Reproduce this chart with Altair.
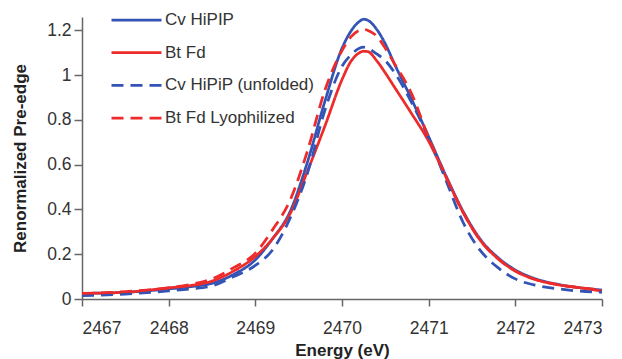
import altair as alt
import pandas as pd

energy = [2467.0, 2467.5, 2468.0, 2468.25, 2468.5, 2468.75, 2469.0, 2469.2, 2469.4,
          2469.6, 2469.8, 2470.0, 2470.1, 2470.2, 2470.25, 2470.3, 2470.4, 2470.5,
          2470.6, 2470.8, 2471.0, 2471.2, 2471.4, 2471.6, 2471.8, 2472.0, 2472.25,
          2472.5, 2472.75, 2473.0]

cv_hipip = [0.025, 0.030, 0.045, 0.055, 0.070, 0.110, 0.175, 0.270, 0.390,
            0.610, 0.880, 1.120, 1.195, 1.240, 1.250, 1.245, 1.205, 1.140,
            1.055, 0.895, 0.725, 0.550, 0.390, 0.265, 0.185, 0.130, 0.088,
            0.065, 0.050, 0.040]

bt_fd = [0.025, 0.030, 0.050, 0.060, 0.080, 0.125, 0.190, 0.270, 0.380,
         0.570, 0.770, 0.980, 1.060, 1.100, 1.107, 1.105, 1.065, 1.010,
         0.950, 0.830, 0.705, 0.545, 0.385, 0.260, 0.180, 0.125, 0.085,
         0.063, 0.050, 0.035]

cv_unfolded = [0.015, 0.022, 0.036, 0.045, 0.058, 0.100, 0.150, 0.220, 0.360,
               0.560, 0.840, 1.040, 1.090, 1.120, 1.125, 1.120, 1.095, 1.065,
               1.015, 0.880, 0.720, 0.530, 0.340, 0.215, 0.140, 0.090, 0.060,
               0.045, 0.035, 0.030]

bt_lyo = [0.025, 0.033, 0.050, 0.065, 0.090, 0.140, 0.205, 0.310, 0.440,
          0.660, 0.930, 1.110, 1.170, 1.200, 1.205, 1.200, 1.175, 1.120,
          1.055, 0.920, 0.720, 0.545, 0.385, 0.260, 0.180, 0.125, 0.085,
          0.063, 0.050, 0.040]

series_names = ["Cv HiPIP", "Bt Fd", "Cv HiPiP (unfolded)", "Bt Fd Lyophilized"]
series_values = [cv_hipip, bt_fd, cv_unfolded, bt_lyo]
series_colors = ["#3354B4", "#EE2B2B", "#3354B4", "#EE2B2B"]
series_dash = [[1, 0], [1, 0], [12, 7], [12, 7]]

y_ticks = [0, 0.2, 0.4, 0.6, 0.8, 1.0, 1.2]
x_ticks = [2467, 2468, 2469, 2470, 2471, 2472, 2473]

rows = []
for name, vals in zip(series_names, series_values):
    for e, v in zip(energy, vals):
        rows.append({"Energy": e, "Value": v, "Series": name})
df = pd.DataFrame(rows)

FONT = "Liberation Sans"

legend_opts = dict(title=None, orient="none", legendX=28, legendY=-12,
                   symbolType="stroke", symbolSize=2500, symbolStrokeWidth=2.75,
                   clipHeight=30, rowPadding=2.7, labelOffset=2)

chart = alt.Chart(df).mark_line(strokeWidth=2.75, interpolate="monotone").encode(
    x=alt.X("Energy:Q",
            scale=alt.Scale(domain=[2467, 2473], nice=False, zero=False),
            axis=alt.Axis(title="Energy (eV)", values=x_ticks, format="d",
                          grid=False, tickSize=7, labelPadding=13,
                          titlePadding=6)),
    y=alt.Y("Value:Q",
            scale=alt.Scale(domain=[0, 1.26], nice=False),
            axis=alt.Axis(title="Renormalized Pre-edge", values=y_ticks,
                          format="~g", grid=False, tickSize=8, labelPadding=3,
                          titlePadding=17)),
    color=alt.Color("Series:N",
                    scale=alt.Scale(domain=series_names, range=series_colors),
                    legend=alt.Legend(**legend_opts)),
    strokeDash=alt.StrokeDash("Series:N",
                              scale=alt.Scale(domain=series_names, range=series_dash),
                              legend=alt.Legend(**legend_opts)),
).properties(
    width=520,
    height=282,
    autosize=alt.AutoSizeParams(type="none"),
    padding={"left": 82, "top": 17, "right": 20, "bottom": 60},
).configure_view(
    stroke=None
).configure_axis(
    labelFont=FONT, labelFontSize=17.5, labelColor="#333333",
    titleFont=FONT, titleFontSize=17, titleColor="#222222", titleFontWeight="bold",
    domainColor="#666666", domainWidth=1.5, tickColor="#666666", tickWidth=1.5,
).configure_legend(
    labelFont=FONT, labelFontSize=17, labelColor="#333333", labelLimit=400,
)

chart.save("out.html", embed_options={"renderer": "svg", "actions": False})
